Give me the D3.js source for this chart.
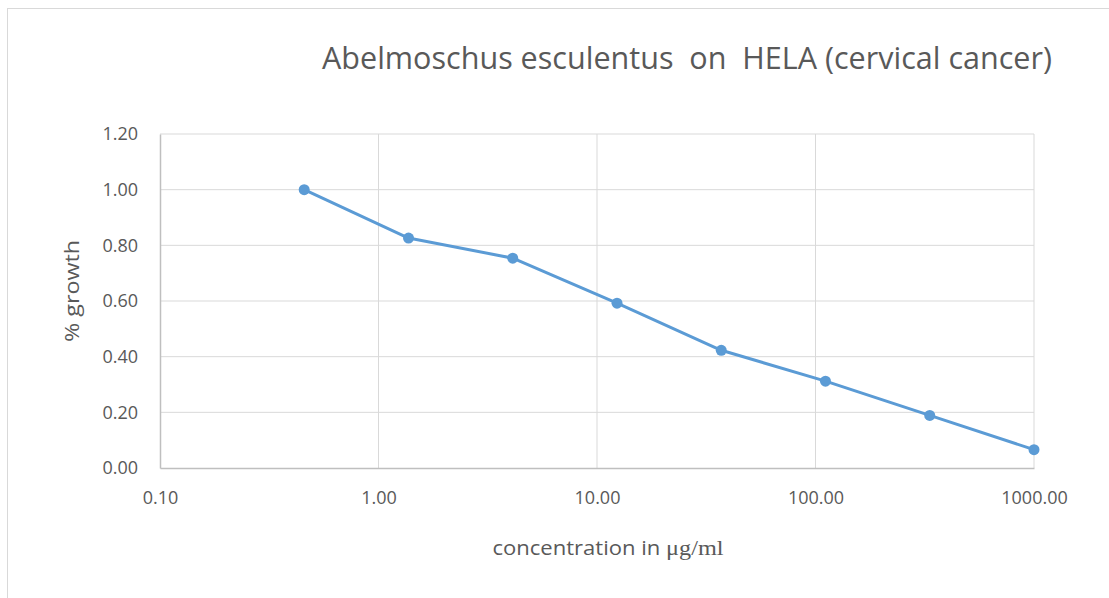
<!DOCTYPE html>
<html>
<head>
<meta charset="utf-8">
<script src="https://cdnjs.cloudflare.com/ajax/libs/d3/7.8.5/d3.min.js"></script>
<style>
  body { margin: 0; background: #fff; }
  text { font-family: "Open Sans", "Noto Sans", sans-serif; fill: #595959; }
</style>
</head>
<body>
<script>
const width = 1109;
const height = 598;

// chart values
const concentrations = [0.457, 1.372, 4.115, 12.35, 37.04, 111.1, 333.3, 1000];
const growth = [1.00, 0.826, 0.754, 0.592, 0.423, 0.312, 0.189, 0.066];
const xTicks = [0.1, 1, 10, 100, 1000];
const yTicks = [0, 0.2, 0.4, 0.6, 0.8, 1.0, 1.2];

const margin = {top: 134, right: 75, bottom: 130, left: 160};

const svg = d3.select('body').append('svg').attr('width', width).attr('height', height);

// outer chart border
svg.append('rect')
  .attr('x', 7.5).attr('y', 8.5)
  .attr('width', width + 20).attr('height', height + 20)
  .style('fill', 'none').style('stroke', '#d9d9d9');

const xs = d3.scaleLog().domain([0.1, 1000]).range([margin.left, width - margin.right]);
const ys = d3.scaleLinear().domain([0, 1.2]).range([height - margin.bottom, margin.top]);

// grid
svg.append('g')
  .selectAll('line')
  .data(yTicks.slice(1))
  .enter()
  .append('line')
  .attr('x1', xs(0.1)).attr('x2', xs(1000))
  .attr('y1', d => ys(d)).attr('y2', d => ys(d))
  .style('stroke', '#d9d9d9').style('stroke-width', 1);

svg.append('g')
  .selectAll('line')
  .data(xTicks.slice(1))
  .enter()
  .append('line')
  .attr('x1', d => xs(d)).attr('x2', d => xs(d))
  .attr('y1', ys(0)).attr('y2', ys(1.2))
  .style('stroke', '#d9d9d9').style('stroke-width', 1);

// axes
const xAxis = svg.append('g')
  .attr('transform', 'translate(0,' + ys(0) + ')')
  .call(d3.axisBottom(xs).tickValues(xTicks).tickFormat(d3.format('.2f')).tickSize(0).tickPadding(23));
xAxis.select('.domain').style('stroke', '#bfbfbf').style('stroke-width', 1.5);
xAxis.selectAll('text').style('font-size', '18px').style('fill', '#595959');

const yAxis = svg.append('g')
  .attr('transform', 'translate(' + xs(0.1) + ',0)')
  .call(d3.axisLeft(ys).tickValues(yTicks).tickFormat(d3.format('.2f')).tickSize(0).tickPadding(22));
yAxis.select('.domain').style('stroke', '#bfbfbf').style('stroke-width', 1.5);
yAxis.selectAll('text').style('font-size', '18px').style('fill', '#595959');

// series
const pts = concentrations.map((c, i) => [c, growth[i]]);

svg.append('path')
  .datum(pts)
  .attr('d', d3.line().x(d => xs(d[0])).y(d => ys(d[1])))
  .style('fill', 'none')
  .style('stroke', '#5b9bd5')
  .style('stroke-width', 3)
  .style('stroke-linejoin', 'round');

svg.append('g')
  .selectAll('circle')
  .data(pts)
  .enter()
  .append('circle')
  .attr('cx', d => xs(d[0]))
  .attr('cy', d => ys(d[1]))
  .attr('r', 5.5)
  .style('fill', '#5b9bd5');

// title
svg.append('text')
  .attr('x', 687).attr('y', 69)
  .attr('text-anchor', 'middle')
  .attr('textLength', 730)
  .attr('lengthAdjust', 'spacingAndGlyphs')
  .style('white-space', 'pre')
  .style('font-size', '31px')
  .text('Abelmoschus esculentus  on  HELA (cervical cancer)');

// axis titles
const xl = svg.append('text')
  .attr('x', 608).attr('y', 555)
  .attr('text-anchor', 'middle')
  .attr('textLength', 231)
  .attr('lengthAdjust', 'spacingAndGlyphs')
  .style('font-size', '20px');
xl.append('tspan').text('concentration in ');
xl.append('tspan').style('font-family', '"Liberation Serif", "DejaVu Serif", serif').style('font-size', '22px').text('μg/ml');

svg.append('text')
  .attr('transform', 'translate(79,' + 291 + ') rotate(-90)')
  .attr('text-anchor', 'middle')
  .attr('textLength', 102)
  .attr('lengthAdjust', 'spacingAndGlyphs')
  .style('font-size', '20px')
  .text('% growth');
</script>
</body>
</html>
